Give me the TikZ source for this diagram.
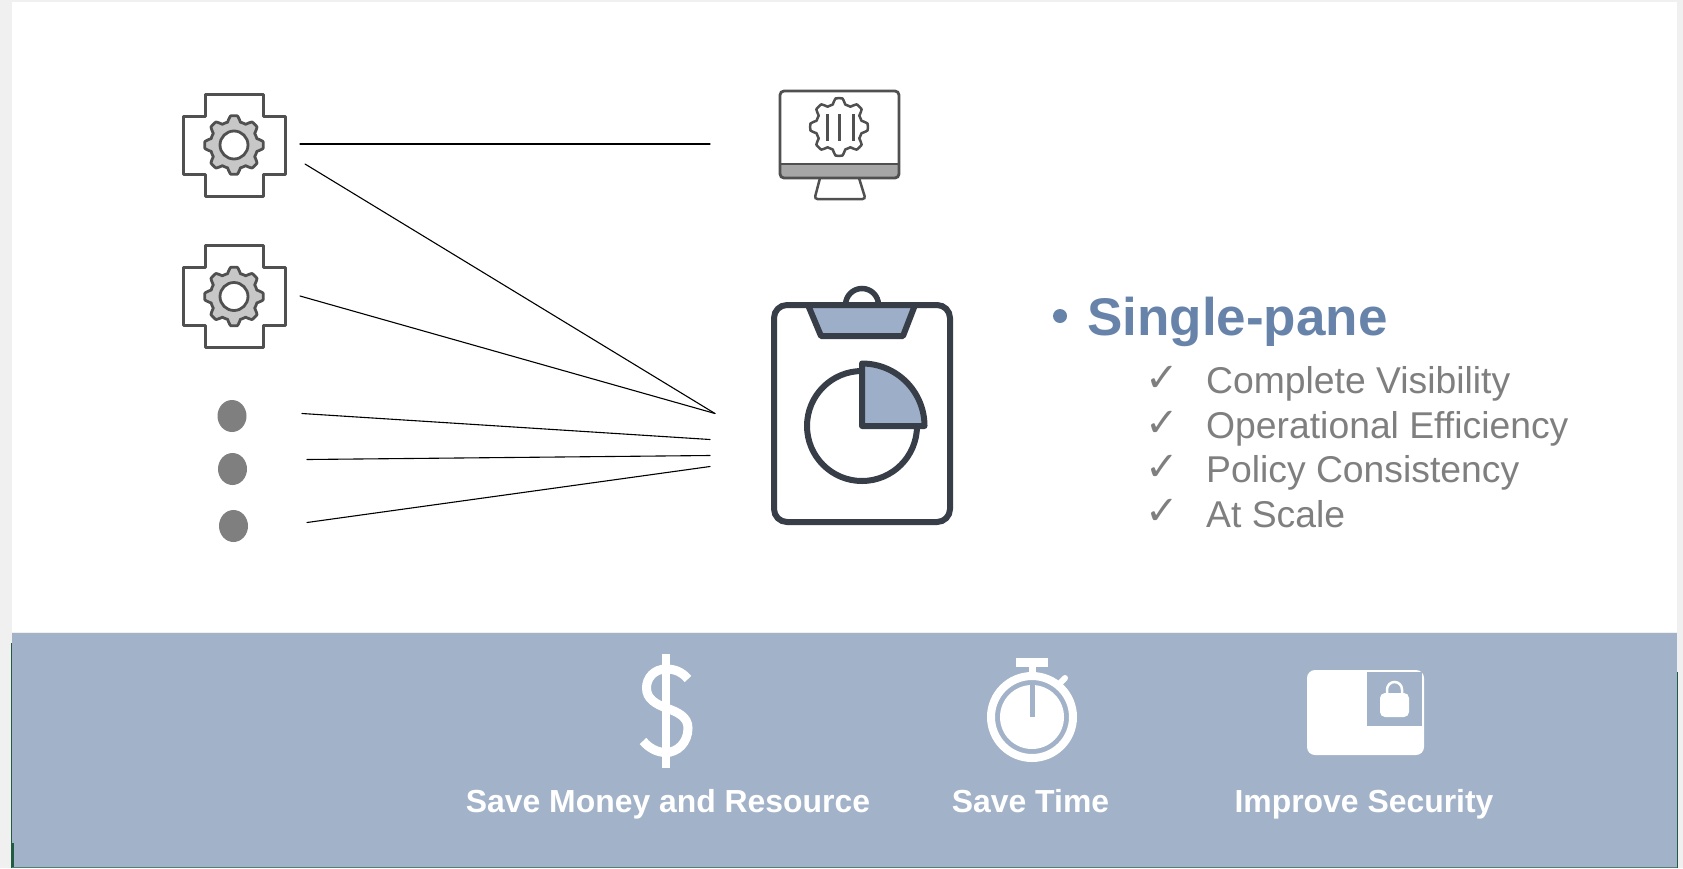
\documentclass[tikz,border=0pt]{standalone}
\usepackage{fontspec}
\setmainfont{Liberation Sans}
\newfontfamily\checkfont{DejaVu Sans}
\usepackage{tikz}
\usepackage{tkz-euclide}
\definecolor{pagegray}{HTML}{F0F0F0}
\definecolor{bandblue}{HTML}{A2B2C8}
\definecolor{iconblue}{HTML}{9DAEC8}
\definecolor{headblue}{HTML}{6783AA}
\definecolor{itemgray}{HTML}{7F7F7F}
\definecolor{icongray}{HTML}{505050}
\definecolor{boarddark}{HTML}{373E48}
\definecolor{edgegreen}{HTML}{1F5C40}
\tikzset{
	wire/.style={line width=1.1pt, black},
	itemtext/.style={anchor=base west, inner sep=0pt, text=itemgray, font=\fontsize{37.3}{44}\selectfont},
	tickmark/.style={anchor=base west, inner sep=0pt, text=itemgray, font=\checkfont\fontsize{40}{46}\selectfont},
	bandtext/.style={anchor=base, inner sep=0pt, text=white, font=\bfseries\fontsize{31.9}{38}\selectfont},
	dotmark/.style={fill=itemgray, draw=none},
	pics/gearbox/.style={code={
		\draw[icongray, line width=3pt, line join=round] (-29,-51) -- (29,-51) -- (29,-29) -- (51,-29) -- (51,29) -- (29,29) -- (29,51) -- (-29,51) -- (-29,29) -- (-51,29) -- (-51,-29) -- (-29,-29) -- cycle;
		\draw[icongray, fill=black!22, line width=2.8pt, line join=round] plot[domain=0:360, samples=161] (\x:{26.5+2.8*max(-1,min(1,1.7*cos(8*\x)))}) -- cycle;
		\draw[icongray, fill=white, line width=2.8pt] (0,0) circle (14);
	}}
}
\begin{document}
\begin{tikzpicture}[x=1pt, y=-1pt]
	\useasboundingbox (0,0) rectangle (1683,868);
	\fill[pagegray] (0,0) rectangle (1683,868);
	\fill[white] (12,2) rectangle (1677,632);
	\fill[bandblue] (12,633) rectangle (1677,868);
	\fill[edgegreen] (10.5,643) rectangle (11.5,868);
	\fill[edgegreen] (12,843) rectangle (14,868);
	\fill[edgegreen] (1676.5,672) rectangle (1678,868);
	\fill[edgegreen!60!bandblue] (12,867) rectangle (1677,868);
	
	% icons on the left
	\pic at (234,145) {gearbox};
	\pic at (234,296.5) {gearbox};
	\fill[dotmark] (232,416) ellipse (14.5 and 16);
	\fill[dotmark] (232.5,469) ellipse (14.5 and 16);
	\fill[dotmark] (233.5,526) ellipse (14.5 and 16);
	
	% connectors
	\tkzDefPoint(300,144){A};
	\tkzDefPoint(710,144){a};
	\tkzDefPoint(305,164){B};
	\tkzDefPoint(715,413.5){b};
	\tkzDefPoint(300,296){C};
	\tkzDefPoint(715,413.5){c};
	\tkzDefPoint(302,413.5){D};
	\tkzDefPoint(710,439.5){d};
	\tkzDefPoint(307,459.5){E};
	\tkzDefPoint(710,455.5){e};
	\tkzDefPoint(307,522.5){F};
	\tkzDefPoint(710,466.5){f};
	\tkzDrawSegment[wire](A,a);
	\tkzDrawSegment[wire](B,b);
	\tkzDrawSegment[wire](C,c);
	\tkzDrawSegment[wire](D,d);
	\tkzDrawSegment[wire](E,e);
	\tkzDrawSegment[wire](F,f);
	
	% monitor
	\fill[black!35] (780,164) rectangle (898,177);
	\draw[icongray, line width=2.8pt, rounded corners=4pt] (780,91) rectangle (899,178);
	\draw[icongray, line width=2.8pt] (780,164) -- (899,164);
	\draw[icongray, line width=2.5pt, rounded corners=3pt] (820,178) -- (814.5,199) -- (865.5,199) -- (859,178);
	\draw[shift={(839,127)}, icongray, line width=2.5pt, line join=round] plot[domain=0:360, samples=161] (\x:{26+2.8*max(-1,min(1,1.7*cos(8*\x)))}) -- cycle;
	\draw[icongray, line width=3pt] (827,114) -- (827,141);
	\draw[icongray, line width=3pt] (839,114) -- (839,141);
	\draw[icongray, line width=3pt] (853,114) -- (853,141);
	
	% clipboard
	\draw[boarddark, line width=5.5pt] (845.5,305) arc[start angle=180, end angle=360, radius=16.5];
	\draw[boarddark, fill=white, line width=6pt, rounded corners=13pt] (774,305) rectangle (950,522);
	\tkzDefPoint(808,305){P};
	\tkzDefPoint(915,305){Q};
	\tkzDefPoint(903,336){R};
	\tkzDefPoint(821,336){S};
	\tkzDrawPolygon[boarddark, fill=iconblue, line width=6pt, line join=round](P,Q,R,S);
	\draw[boarddark, line width=6pt] (862,371) arc[start angle=-90, end angle=-360, radius=55];
	\draw[boarddark, fill=iconblue, line width=6pt, line join=round] (862,426) -- (862,363.5) arc[start angle=-90, end angle=0, radius=62.5] -- cycle;
	
	% text on the right
	\node[anchor=base west, inner sep=0pt, text=headblue, font=\bfseries\fontsize{53}{60}\selectfont] (head) at (1087,335) {Single-pane};
	\fill[headblue] (1060,316) circle (7);
	\node[tickmark] (tick1) at (1145,391) {✓};
	\node[tickmark] (tick2) at (1145,436) {✓};
	\node[tickmark] (tick3) at (1145,480) {✓};
	\node[tickmark] (tick4) at (1145,524) {✓};
	\node[itemtext] (item1) at (1206,393) {Complete Visibility};
	\node[itemtext] (item2) at (1206,438) {Operational Efficiency};
	\node[itemtext] (item3) at (1206,482) {Policy Consistency};
	\node[itemtext] (item4) at (1206,527) {At Scale};
	
	% dollar
	\draw[white, line width=8pt] (666,654) -- (666,768);
	\draw[white, line width=9pt] (688,679) .. controls (682,672) and (675,669) .. (666,669) .. controls (654,669) and (646.5,678) .. (646.5,688) .. controls (646.5,699) and (656,704) .. (666,708) .. controls (678,712) and (688,717) .. (688,728) .. controls (688,743) and (677,752.5) .. (666,752.5) .. controls (657,752.5) and (649,748) .. (643,741);
	
	% stopwatch
	\draw[white, line width=8pt] (1032,717) circle (41);
	\fill[white] (1032,717) circle (32);
	\draw[bandblue, line width=5pt] (1032,685) -- (1032,717);
	\fill[white] (1016,658) rectangle (1048,667);
	\draw[white, line width=7pt] (1032,665) -- (1032,677);
	\draw[white, line width=6pt, line cap=round] (1059,684) -- (1065,678);
	
	% lock card
	\fill[white, rounded corners=8pt] (1307,670) rectangle (1424,755);
	\fill[bandblue] (1367,672) rectangle (1422,726);
	\fill[white, rounded corners=5pt] (1380,693) rectangle (1409,717);
	\draw[white, line width=2.5pt] (1387,694) -- (1387,689.5) arc[start angle=180, end angle=360, radius=7.5] -- (1402,694);
	
	% band labels
	\node[bandtext] (money) at (668,812) {Save Money and Resource};
	\node[bandtext] (time) at (1030.5,812) {Save Time};
	\node[bandtext] (secure) at (1364,812) {Improve Security};
\end{tikzpicture}
\end{document}
